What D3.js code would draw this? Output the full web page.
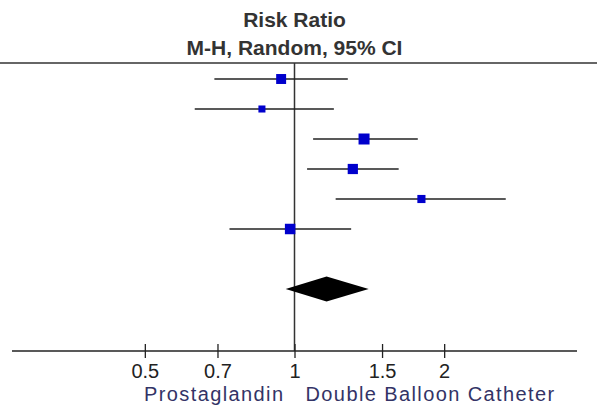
<!DOCTYPE html>
<html>
<head>
<meta charset="utf-8">
<script src="https://cdn.jsdelivr.net/npm/d3@7"></script>
<style>
  html, body { margin: 0; padding: 0; background: #fff; }
  svg { display: block; font-family: "Liberation Sans", Arial, sans-serif; }
</style>
</head>
<body>
<div id="forest"></div>
<script>
// Study-level risk ratios
const estimates = [0.94, 0.86, 1.38, 1.31, 1.80, 0.98];
const lowerCI   = [0.69, 0.63, 1.09, 1.06, 1.21, 0.74];
const upperCI   = [1.28, 1.20, 1.77, 1.62, 2.66, 1.30];
const weights   = [18, 9, 22, 19, 12, 20];

// Pooled estimate (diamond)
const pooledEst = 1.16;
const pooledLo = 0.96;
const pooledHi = 1.41;

const tickValues = [0.5, 0.7, 1, 1.5, 2];
const titleLines = ['Risk Ratio', 'M-H, Random, 95% CI'];
const favoursLeft = 'Prostaglandin';
const favoursRight = 'Double Balloon Catheter';

const width = 597;
const height = 408;
const topLineY = 63;
const axisY = 351;
const ink = '#333';

const svg = d3.select('#forest')
  .append('svg')
  .attr('width', width)
  .attr('height', height);

// Log scale, symmetric around 1
const x = d3.scaleLog().domain([1 / 3.7, 3.7]).range([12, 577]);

// Rows: 6 studies, one blank, then the pooled row
const y = d3.scaleLinear().domain([0, 7]).range([79, 289]);

const size = d3.scaleSqrt().domain([0, 22]).range([0, 11]);

// Title
svg.append('g')
  .selectAll('text')
  .data(titleLines)
  .join('text')
  .attr('x', x(1))
  .attr('y', (d, i) => 27 + i * 28)
  .attr('text-anchor', 'middle')
  .style('font-size', '21px')
  .style('font-weight', '700')
  .style('fill', ink)
  .text(d => d);

// Top rule
svg.append('line')
  .attr('x1', 0).attr('x2', width)
  .attr('y1', topLineY).attr('y2', topLineY)
  .attr('stroke', ink).attr('stroke-width', 1.5);

// Line of no effect
svg.append('line')
  .attr('x1', x(1)).attr('x2', x(1))
  .attr('y1', topLineY).attr('y2', axisY)
  .attr('stroke', ink).attr('stroke-width', 1.5);

const studies = estimates.map((est, i) => ({
  est, lo: lowerCI[i], hi: upperCI[i], w: weights[i], row: i
}));

// Confidence intervals
svg.append('g')
  .selectAll('line')
  .data(studies)
  .join('line')
  .attr('x1', d => x(d.lo))
  .attr('x2', d => x(d.hi))
  .attr('y1', d => y(d.row))
  .attr('y2', d => y(d.row))
  .attr('stroke', '#222')
  .attr('stroke-width', 1.5);

// Point estimates, sized by weight
svg.append('g')
  .selectAll('rect')
  .data(studies)
  .join('rect')
  .attr('x', d => x(d.est) - size(d.w) / 2)
  .attr('y', d => y(d.row) - size(d.w) / 2)
  .attr('width', d => size(d.w))
  .attr('height', d => size(d.w))
  .attr('fill', '#0000cc');

// Pooled diamond
const dy = 12.5;
const py = y(7);
svg.append('path')
  .attr('d', d3.line()([
    [x(pooledLo), py],
    [x(pooledEst), py - dy],
    [x(pooledHi), py],
    [x(pooledEst), py + dy]
  ]) + 'Z')
  .attr('fill', '#000');

// Axis
const axis = svg.append('g')
  .attr('transform', `translate(0,${axisY})`)
  .call(d3.axisBottom(x).tickValues(tickValues).tickFormat(d3.format('')).tickSizeOuter(0));

axis.select('.domain')
  .attr('d', `M${x.range()[0]},0H${x.range()[1]}`)
  .attr('stroke', '#222')
  .attr('stroke-width', 1.5);
axis.selectAll('.tick line')
  .attr('y1', -7).attr('y2', 7)
  .attr('stroke', '#222')
  .attr('stroke-width', 1.3);
axis.selectAll('.tick text')
  .attr('y', 27)
  .attr('dy', null)
  .style('font-size', '20px')
  .style('font-family', '"Liberation Sans", Arial, sans-serif')
  .style('fill', '#222');

// Favours labels
svg.append('text')
  .attr('x', x(1) - 10)
  .attr('y', 401)
  .attr('text-anchor', 'end')
  .style('font-size', '20px')
  .style('letter-spacing', '1.4px')
  .style('fill', '#333366')
  .text(favoursLeft);

svg.append('text')
  .attr('x', x(1) + 11)
  .attr('y', 401)
  .attr('text-anchor', 'start')
  .style('font-size', '20px')
  .style('letter-spacing', '1.4px')
  .style('fill', '#333366')
  .text(favoursRight);
</script>
</body>
</html>
